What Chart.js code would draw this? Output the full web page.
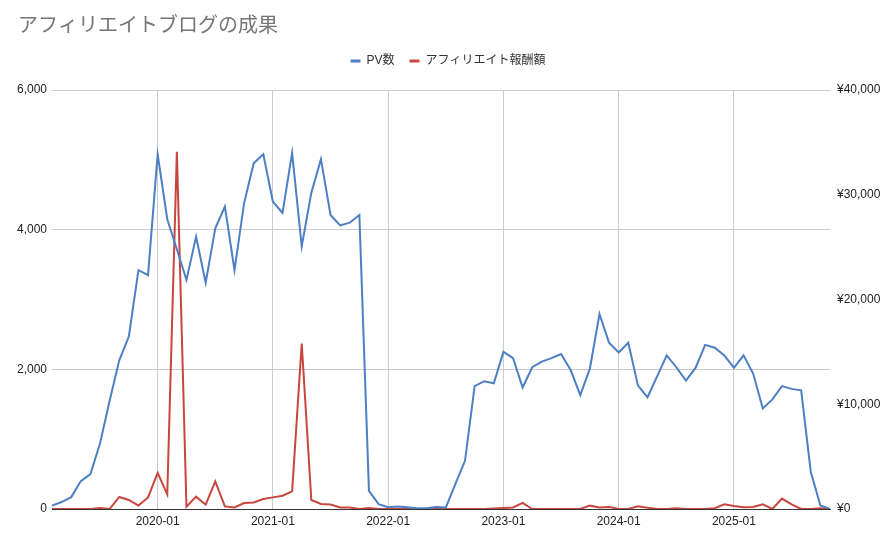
<!DOCTYPE html>
<html>
<head>
<meta charset="utf-8">
<script src="https://cdn.jsdelivr.net/npm/chart.js@4"></script>
<style>
  body { margin: 0; background: #fff; }
  #wrap { width: 896px; height: 544px; }
</style>
</head>
<body>
<div id="wrap"><canvas id="myChart"></canvas></div>
<script>
// 2019-02 〜 2025-11 の月次データ
const months = [];
for (let y = 2019; y <= 2025; y++) {
    for (let m = 1; m <= 12; m++) {
        if (y === 2019 && m < 2) continue;
        if (y === 2025 && m > 11) continue;
        months.push(y + '-' + String(m).padStart(2, '0'));
    }
}

const pv2019 = [48, 100, 170, 400, 500, 940, 1550, 2130, 2470, 3420, 3350];
const pv2020 = [5080, 4150, 3720, 3280, 3900, 3240, 4020, 4330, 3420, 4380, 4950, 5080];
const pv2021 = [4400, 4240, 5100, 3760, 4530, 5010, 4210, 4060, 4100, 4210, 260, 70];
const pv2022 = [25, 35, 25, 10, 10, 30, 20, 360, 690, 1760, 1830, 1800];
const pv2023 = [2250, 2160, 1740, 2030, 2110, 2160, 2220, 1990, 1630, 2010, 2790, 2380];
const pv2024 = [2240, 2380, 1770, 1600, 1900, 2200, 2030, 1840, 2020, 2350, 2310, 2200];
const pv2025 = [2020, 2200, 1940, 1440, 1570, 1760, 1720, 1700, 530, 50, 0];

const rev2019 = [0, 0, 0, 0, 0, 100, 0, 1150, 860, 330, 1100];
const rev2020 = [3450, 1400, 34100, 220, 1180, 410, 2640, 250, 150, 575, 620, 960];
const rev2021 = [1110, 1270, 1690, 15800, 860, 480, 420, 150, 150, 0, 100, 0];
const rev2022 = [0, 0, 0, 0, 0, 0, 0, 0, 0, 0, 0, 50];
const rev2023 = [100, 150, 580, 0, 0, 0, 0, 0, 0, 320, 150, 200];
const rev2024 = [0, 0, 260, 130, 0, 0, 60, 0, 0, 0, 80, 450];
const rev2025 = [290, 160, 190, 440, 0, 1000, 440, 0, 0, 60, 0];

const pvTicks = [0, 2000, 4000, 6000];
const yenTicks = [0, 10000, 20000, 30000, 40000];

const pv = [].concat(pv2019, pv2020, pv2021, pv2022, pv2023, pv2024, pv2025);
const revenue = [].concat(rev2019, rev2020, rev2021, rev2022, rev2023, rev2024, rev2025);

const FONT = 'Arial, "Liberation Sans", "Noto Sans CJK JP", sans-serif';
const BLUE = '#4d7fc4';
const RED = '#c8463d';

// 凡例の下に余白を足し、タイトルを少し右へずらす
const layoutTweak = {
    id: 'layoutTweak',
    beforeLayout(chart) {
        const lg = chart.legend;
        if (lg && !lg._patched) {
            const fit = lg.fit;
            lg.fit = function() {
                fit.call(this);
                this.height += 13;
            };
            lg._patched = true;
        }
        const t = chart.titleBlock;
        if (t && !t._patched) {
            const draw = t.draw;
            t.draw = function() {
                const c = this.ctx;
                c.save();
                c.translate(18, 0);
                draw.call(this);
                c.restore();
            };
            t._patched = true;
        }
    }
};

const ctx = document.getElementById('myChart').getContext('2d');

new Chart(ctx, {
    type: 'line',
    data: {
        labels: months,
        datasets: [
            {
                label: 'PV数',
                data: pv,
                borderColor: BLUE,
                backgroundColor: BLUE,
                borderWidth: 2,
                pointRadius: 0,
                tension: 0,
                yAxisID: 'y'
            },
            {
                label: 'アフィリエイト報酬額',
                data: revenue,
                borderColor: RED,
                backgroundColor: RED,
                borderWidth: 2,
                pointRadius: 0,
                tension: 0,
                yAxisID: 'y1'
            }
        ]
    },
    plugins: [layoutTweak],
    options: {
        responsive: true,
        maintainAspectRatio: false,
        animation: false,
        layout: { padding: 0 },
        plugins: {
            title: {
                display: true,
                text: 'アフィリエイトブログの成果',
                align: 'start',
                color: '#757575',
                font: { family: '"Noto Sans CJK JP", sans-serif', size: 20, weight: 'normal' },
                padding: { top: 12, bottom: 4 }
            },
            legend: {
                position: 'top',
                labels: {
                    color: '#333',
                    font: { family: FONT, size: 12 },
                    boxWidth: 10,
                    boxHeight: 3,
                    padding: 15,
                    generateLabels: (chart) => {
                        const items = Chart.defaults.plugins.legend.labels.generateLabels(chart);
                        items.forEach(it => { it.lineWidth = 0; });
                        return items;
                    }
                }
            },
            tooltip: { enabled: false }
        },
        scales: {
            x: {
                ticks: {
                    autoSkip: false,
                    maxRotation: 0,
                    color: '#222',
                    font: { family: FONT, size: 12 },
                    padding: 5,
                    callback: function(value, index) {
                        const lab = months[index];
                        return lab.endsWith('-01') ? lab : null;
                    }
                },
                grid: { color: '#cccccc', drawTicks: false },
                border: { display: true, color: '#333' },
                afterFit: (scale) => { scale.height = 35; }
            },
            y: {
                position: 'left',
                min: 0,
                max: 6000,
                afterBuildTicks: (scale) => { scale.ticks = pvTicks.map(v => ({ value: v })); },
                ticks: {
                    color: '#222',
                    font: { family: FONT, size: 12 },
                    padding: 5,
                    callback: (v) => v.toLocaleString('en-US')
                },
                grid: { color: '#cccccc', drawTicks: false },
                border: { display: false },
                afterFit: (scale) => { scale.width = 52; }
            },
            y1: {
                position: 'right',
                min: 0,
                max: 40000,
                afterBuildTicks: (scale) => { scale.ticks = yenTicks.map(v => ({ value: v })); },
                ticks: {
                    color: '#222',
                    font: { family: FONT, size: 12 },
                    padding: 7,
                    callback: (v) => '¥' + v.toLocaleString('en-US')
                },
                grid: { drawOnChartArea: false, drawTicks: false },
                border: { display: false },
                afterFit: (scale) => { scale.width = 66; }
            }
        }
    }
});
</script>
</body>
</html>
